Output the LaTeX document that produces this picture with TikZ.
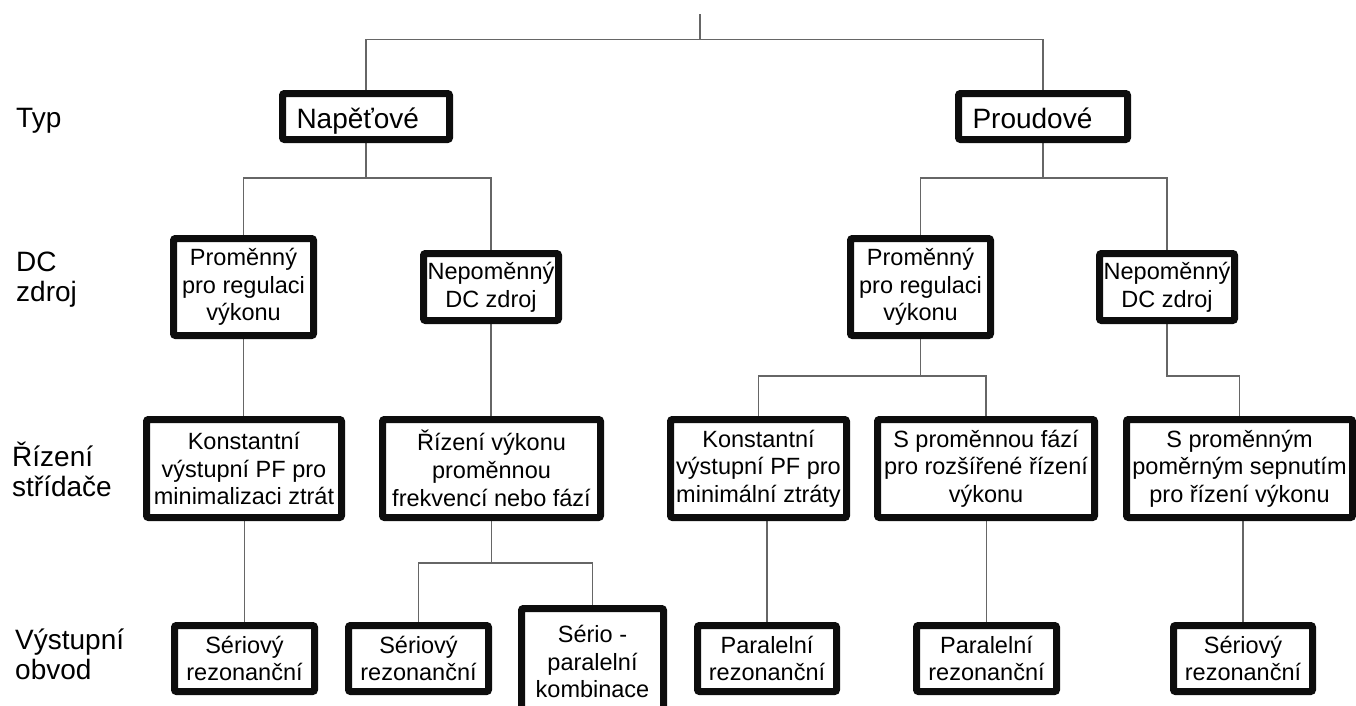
\documentclass[tikz,border=0pt]{standalone}
\usepackage{fontspec}
\setmainfont{Liberation Sans}
\usetikzlibrary{backgrounds}
\tikzset{
  box/.style={draw=black!95, line width=7pt, rounded corners=2pt, fill=white,
    inner sep=0pt, align=center, font=\fontsize{23.5}{27.7}\selectfont},
  typebox/.style={box, align=left, inner xsep=14pt, minimum height=46pt,
    text height=23pt, text depth=0pt, font=\fontsize{28}{32}\selectfont},
  rowlabel/.style={anchor=west, align=left, inner sep=0pt,
    font=\fontsize{28}{30}\selectfont},
  wire/.style={draw=black!60, line width=1.4pt},
}

\begin{document}
\begin{tikzpicture}[x=1pt,y=-1pt]
  \useasboundingbox (0,0) rectangle (1356,705);

  % row labels
  \node[rowlabel] (ltyp) at (16,121) {Typ};
  \node[rowlabel] (ldc) at (16,280) {DC\\zdroj};
  \node[rowlabel] (lriz) at (12,469) {Řízení\\střídače};
  \node[rowlabel] (lvys) at (15,654) {Výstupní\\obvod};

  % junction levels
  \coordinate (root) at (700,14);
  \coordinate (j0) at (700,39.5);
  \coordinate (j1) at (0,178);
  \coordinate (j3) at (0,376);
  \coordinate (j4) at (0,563);

  % type
  \node[typebox, minimum width=167pt, text width=139pt] (nap) at (366,116.5) {Napěťové};
  \node[typebox, minimum width=169pt, text width=141pt] (prou) at (1043,116.5) {Proudové};

  % DC source
  \node[box, minimum width=140pt, minimum height=97pt] (proml) at (243.5,287) {Proměnný\\pro regulaci\\výkonu};
  \node[box, minimum width=135pt, minimum height=67pt] (nepl) at (491,287) {Nepoměnný\\DC zdroj};
  \node[box, minimum width=140pt, minimum height=97pt] (promr) at (920.5,287) {Proměnný\\pro regulaci\\výkonu};
  \node[box, minimum width=135pt, minimum height=67pt] (nepr) at (1167,287) {Nepoměnný\\DC zdroj};

  % inverter control
  \node[box, minimum width=195pt, minimum height=98pt] (konl) at (244,468.5) {Konstantní\\výstupní PF pro\\minimalizaci ztrát};
  \node[box, minimum width=218pt, minimum height=98pt] (rizl) at (491.5,468.5) {Řízení výkonu\\proměnnou\\frekvencí nebo fází};
  \node[box, minimum width=176pt, minimum height=98pt] (konr) at (758.5,468.5) {Konstantní\\výstupní PF pro\\minimální ztráty};
  \node[box, minimum width=217pt, minimum height=98pt] (spf) at (986,468.5) {S proměnnou fází\\pro rozšířené řízení\\výkonu};
  \node[box, minimum width=226pt, minimum height=98pt] (spm) at (1239.5,468.5) {S proměnným\\poměrným sepnutím\\pro řízení výkonu};

  % output circuit
  \node[box, minimum width=140pt, minimum height=66pt] (serl) at (244.5,658.5) {Sériový\\rezonanční};
  \node[box, minimum width=140pt, minimum height=66pt] (serm) at (418.5,658.5) {Sériový\\rezonanční};
  \node[box, minimum width=142pt, minimum height=106pt] (serpar) at (592.5,661.5) {Sério -\\paralelní\\kombinace};
  \node[box, minimum width=139pt, minimum height=66pt] (para) at (767,658.5) {Paralelní\\rezonanční};
  \node[box, minimum width=140pt, minimum height=66pt] (parb) at (986.5,658.5) {Paralelní\\rezonanční};
  \node[box, minimum width=139pt, minimum height=66pt] (serr) at (1243,658.5) {Sériový\\rezonanční};

  \begin{scope}[on background layer]
    \draw[wire] (root) -- (j0);
    \draw[wire] (nap.north) -- (nap.north |- j0) -- (prou.north |- j0) -- (prou.north);
    \draw[wire] (nap.south) -- (nap.south |- j1);
    \draw[wire] (proml.north) |- (nepl.north |- j1) -- (nepl.north);
    \draw[wire] (prou.south) -- (prou.south |- j1);
    \draw[wire] (promr.north) |- (nepr.north |- j1) -- (nepr.north);
    \draw[wire] (proml.south) -- (proml.south |- konl.north);
    \draw[wire] (nepl.south) -- (nepl.south |- rizl.north);
    \draw[wire] (promr.south) -- (promr.south |- j3);
    \draw[wire] (konr.north) |- (spf.north |- j3) -- (spf.north);
    \draw[wire] (nepr.south) -- (nepr.south |- j3) -| (spm.north);
    \draw[wire] (serl.north) -- (serl.north |- konl.south);
    \draw[wire] (rizl.south) -- (rizl.south |- j4);
    \draw[wire] (serm.north) |- (serpar.north |- j4) -- (serpar.north);
    \draw[wire] (para.north) -- (para.north |- konr.south);
    \draw[wire] (parb.north) -- (parb.north |- spf.south);
    \draw[wire] (serr.north) -- (serr.north |- spm.south);
  \end{scope}
\end{tikzpicture}
\end{document}
